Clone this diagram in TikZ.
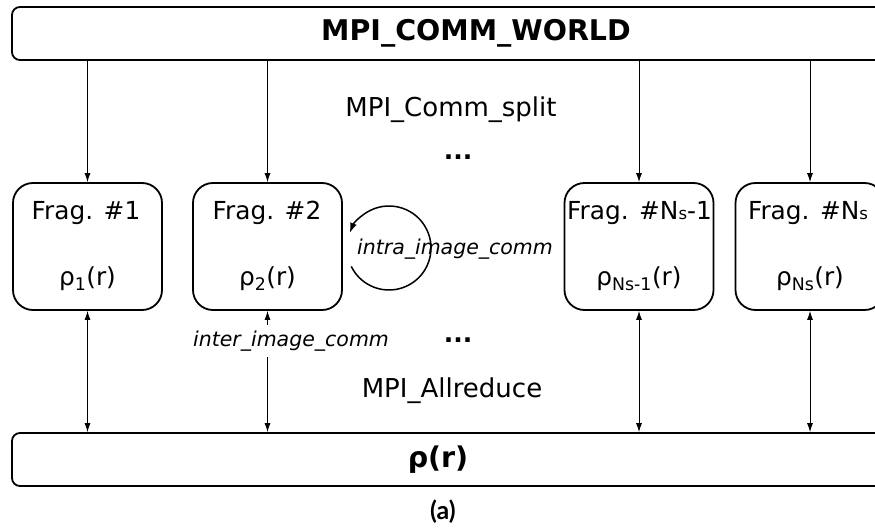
\documentclass[tikz,border=0pt]{standalone}
\usepackage{fontspec}
\setmainfont{DejaVu Sans}
\newfontfamily\capfont{Lato}
\usetikzlibrary{arrows.meta}
\begin{document}
\begin{tikzpicture}[x=1pt,y=-1pt,
  bigbox/.style={draw, line width=1.8pt, rounded corners=8pt, minimum width=930pt, minimum height=53pt, inner sep=0pt},
  frag/.style={draw, line width=1.8pt, rounded corners=20pt, minimum width=149pt, minimum height=127pt, inner sep=0pt},
  conn/.style={line width=0.9pt, -{Latex[length=9pt,width=6pt]}},
  biconn/.style={line width=0.9pt, {Latex[length=9pt,width=6pt]}-{Latex[length=9pt,width=6pt]}},
  fragtxt/.style={font=\fontsize{24.8}{28}\selectfont, anchor=base, inner sep=0pt},
  lbl/.style={font=\fontsize{26}{30}\selectfont, anchor=base, inner sep=0pt},
  boldtxt/.style={font=\bfseries\fontsize{28.5}{32}\selectfont, inner sep=0pt},
  ilbl/.style={font=\fontsize{20.5}{24}\selectfont\itshape, inner sep=1pt},
  dotstxt/.style={font=\bfseries\fontsize{25}{28}\selectfont, anchor=base, inner sep=0pt}]
\useasboundingbox (0,0) rectangle (875,529);
\clip (0,0) rectangle (875,529);

% top and bottom boxes
\node[bigbox] (world) at (477,33.5) {};
\node[boldtxt] (worldtxt) at (476,33.5) {MPI\_COMM\_WORLD};
\node[bigbox] (all) at (477,459.5) {};
\node[boldtxt] (rhotxt) at (438,459.5) {ρ(r)};

% fragment boxes
\node[frag] (f1) at (87.5,246.5) {};
\node[frag] (f2) at (267.5,246.5) {};
\node[frag] (f3) at (639,246.5) {};
\node[frag] (f4) at (810,246.5) {};

\node[fragtxt] (t1) at (86,220) {Frag. \#1};
\node[fragtxt] (t2) at (267,220) {Frag. \#2};
\node[fragtxt] (t3) at (639.5,220) {Frag. \#N{\fontsize{16.5}{18}\selectfont s}-1};
\node[fragtxt] (t4) at (808,220) {Frag. \#N{\fontsize{16.5}{18}\selectfont s}};

\node[fragtxt] (r1) at (87.5,286) {ρ\textsubscript{1}(r)};
\node[fragtxt] (r2) at (267.5,286) {ρ\textsubscript{2}(r)};
\node[fragtxt] (r3) at (639,286) {ρ\textsubscript{Ns-1}(r)};
\node[fragtxt] (r4) at (810,286) {ρ\textsubscript{Ns}(r)};

% top connectors
\foreach \f in {f1,f2,f3,f4}
  \draw[conn] (world.south -| \f.north) -- (\f.north);

% bottom connectors
\foreach \f in {f1,f2,f3,f4}
  \draw[biconn] (\f.south) -- (\f.south |- all.north);

% labels
\node[lbl] (split) at (451,117) {MPI\_Comm\_split};
\node[lbl] (allred) at (452,397) {MPI\_Allreduce};
\node[dotstxt] (dots1) at (458,160) {...};
\node[dotstxt] (dots2) at (458,342) {...};
\node[ilbl, fill=white, inner ysep=6pt] (inter) at (291,341) {inter\_image\_comm};

% intra loop
\coordinate (loopc) at (389,248);
\draw[line width=1.5pt, -{Latex[length=10pt,width=7pt]}] (loopc) ++(154:42) arc[start angle=154, end angle=-159, radius=42];
\node[ilbl] (intra) at (455,249) {intra\_image\_comm};

% caption
\node[font=\capfont\bfseries\fontsize{25}{28}\selectfont, inner sep=0pt] (cap) at (443,512) {(a)};
\end{tikzpicture}
\end{document}
